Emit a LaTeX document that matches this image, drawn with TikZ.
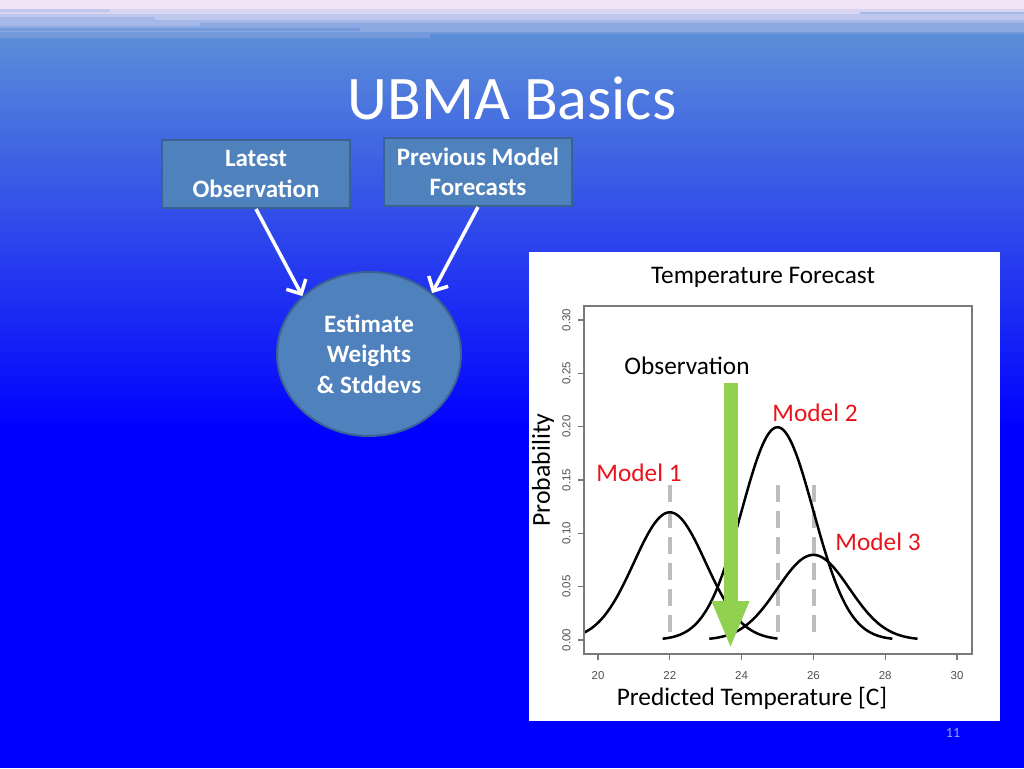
\documentclass[tikz,border=0pt]{standalone}
\usepackage{fontspec}
\setmainfont{Carlito}
\newfontfamily\arialfont{Liberation Sans}
\usetikzlibrary{arrows.meta,shapes.geometric}
\definecolor{lav}{HTML}{EFE3F5}
\definecolor{bandA}{HTML}{D9D5F1}
\definecolor{bandB}{HTML}{C0C7EC}
\definecolor{bandC}{HTML}{A5B8E7}
\definecolor{bandD}{HTML}{8DA9E2}
\definecolor{bandE}{HTML}{759ADC}
\definecolor{skytop}{HTML}{5A8DD8}
\definecolor{pureblue}{HTML}{0000FF}
\definecolor{boxfill}{HTML}{4F81BD}
\definecolor{boxline}{HTML}{3A6394}
\definecolor{obsgreen}{HTML}{92D050}
\definecolor{modelred}{HTML}{E8141C}
\definecolor{dashgray}{HTML}{BDBDBD}
\definecolor{axisgray}{HTML}{7A7A7A}
\definecolor{ticktext}{HTML}{505050}
\definecolor{pagenum}{HTML}{8EA6EC}
\tikzset{
  flowbox/.style={draw=boxline, line width=2pt, fill=boxfill, text=white,
    font=\fontsize{25}{30.5}\selectfont\bfseries, align=center,
    minimum width=188pt, minimum height=68pt, inner sep=0pt},
  flowellipse/.style={ellipse, draw=boxline, line width=2pt, fill=boxfill, text=white,
    font=\fontsize{25}{30.5}\selectfont\bfseries, align=center,
    minimum width=184pt, minimum height=164pt, inner sep=0pt},
  flowarrow/.style={draw=white, line width=3.5pt, -{Straight Barb[length=11pt,width=22pt]}},
  curve/.style={line width=2.5pt, black, samples=120},
  meanline/.style={draw=dashgray, line width=4pt, dash pattern=on 17pt off 9pt},
  plotframe/.style={draw=axisgray, line width=1.5pt},
  tickline/.style={draw=axisgray, line width=1.2pt},
  ytick/.style={font=\arialfont\fontsize{11.5}{13}\selectfont, text=ticktext, rotate=90,
    text height=8.5pt, text depth=0pt, inner sep=0pt},
  xtick/.style={font=\arialfont\fontsize{11.5}{13}\selectfont, text=ticktext,
    text height=8.5pt, text depth=0pt, inner sep=0pt},
  plottext/.style={font=\fontsize{25.3}{28}\selectfont, text=black},
  modellabel/.style={font=\fontsize{25.3}{28}\selectfont, text=modelred},
  obsarrow/.style={draw=obsgreen, line width=14pt, -{Triangle[length=48pt,width=34pt]}}
}
\begin{document}
\begin{tikzpicture}[x=1pt,y=-1pt]
\useasboundingbox (0,0) rectangle (1024,768);
% background
\fill[pureblue] (0,0) rectangle (1024,768);
\shade[top color=skytop, bottom color=pureblue] (0,38) rectangle (1024,430);
\fill[lav] (0,0) rectangle (1024,9);
\fill[bandA] (0,9) rectangle (1024,14);
\fill[bandB] (0,14) rectangle (1024,20);
\fill[bandC] (0,20) rectangle (1024,26);
\fill[bandD] (0,26) rectangle (1024,32);
\fill[bandE] (0,32) rectangle (1024,38);
\fill[bandB] (0,9) rectangle (110,12);
\fill[bandC] (0,17) rectangle (155,20);
\fill[bandD] (200,23) rectangle (1024,26);
\fill[bandE] (0,28) rectangle (360,31);
\fill[skytop] (430,34) rectangle (1024,38);
\fill[bandC] (860,12) rectangle (1024,14);
% title
\node[text=white, font=\fontsize{62}{70}\selectfont] (title) at (512,98) {UBMA Basics};
% flow
\node[flowbox] (lo) at (256,174) {Latest\\Observation};
\node[flowbox] (pm) at (478,172) {Previous Model\\Forecasts};
\node[flowellipse] (est) at (369,354) {Estimate\\Weights\\\& Stddevs};
\draw[flowarrow] (lo.south) -- (est.139);
\draw[flowarrow] (pm.south) -- (est.44);
% chart panel
\fill[white] (529,252) rectangle (1000,721);
\node[plottext] (ptitle) at (763,277) {Temperature Forecast};
% mean lines
\draw[meanline] (670,485) -- (670,640);
\draw[meanline] (777.7,485) -- (777.7,640);
\draw[meanline] (813.6,485) -- (813.6,640);
% curves
\draw[curve, domain=19.61:25] plot ({598+35.9*(\x-20)}, {640-1066.7*0.3*0.39894*exp(-(\x-22)*(\x-22)/2)});
\draw[curve, domain=21.8:28.2] plot ({598+35.9*(\x-20)}, {640-1066.7*0.5*0.39894*exp(-(\x-25)*(\x-25)/2)});
\draw[curve, domain=23.1:28.9] plot ({598+35.9*(\x-20)}, {640-1066.7*0.2*0.39894*exp(-(\x-26)*(\x-26)/2)});
% frame
\draw[plotframe] (584,306) rectangle (972,654);
\foreach \v/\lab [count=\i from 0] in {0/0.00,1/0.05,2/0.10,3/0.15,4/0.20,5/0.25,6/0.30}{
  \draw[tickline] (584,640-53.33*\v) -- (578,640-53.33*\v);
  \node[ytick] (yt\i) at (566,640-53.33*\v) {\lab};
}
\foreach \tv [count=\i from 0] in {20,22,24,26,28,30}{
  \draw[tickline] ({598+35.9*(\tv-20)},654) -- ({598+35.9*(\tv-20)},660);
  \node[xtick] (xt\i) at ({598+35.9*(\tv-20)},675) {\tv};
}
\node[plottext, font=\fontsize{25.8}{28}\selectfont, rotate=90] (ylab) at (543,470) {Probability};
\node[plottext] (xlab) at (752,698) {Predicted Temperature [C]};
% observation arrow
\coordinate (obstop) at (730.5,383);
\coordinate (obstip) at (730.5,649);
\draw[obsarrow] (obstop) -- (obstip);
\node[plottext] (obs) at (687,366) {Observation};
\node[modellabel] (m1) at (639,473) {Model 1};
\node[modellabel] (m2) at (815,413) {Model 2};
\node[modellabel] (m3) at (878,542) {Model 3};
% page number
\node[text=pagenum, font=\fontsize{14}{16}\selectfont] (pnum) at (953,733) {11};
\end{tikzpicture}
\end{document}
